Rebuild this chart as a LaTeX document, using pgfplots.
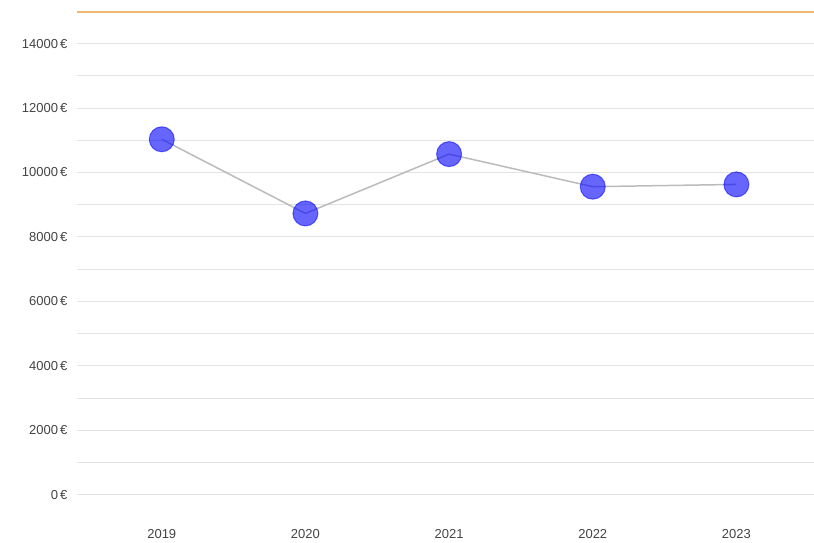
\documentclass[border=0pt]{standalone}
\usepackage{pgfplots}
\pgfplotsset{compat=1.18}
\usepackage{fontspec}
\setmainfont{Liberation Sans}
\definecolor{gridc}{HTML}{E3E3E3}
\definecolor{linec}{HTML}{BBBBBB}
\definecolor{labc}{HTML}{444444}
\begin{document}
\begin{tikzpicture}[x=1pt,y=1pt]
\begin{axis}[
  scale only axis,
  width=737pt, height=499.7pt,
  xmin=-0.59, xmax=4.54,
  ymin=-500, ymax=15000,
  scaled y ticks=false,
  axis line style={draw=none},
  xtick={0,1,2,3,4},
  xticklabels={2019,2020,2021,2022,2023},
  ytick={0,2000,4000,6000,8000,10000,12000,14000},
  yticklabels={0\,€,2000\,€,4000\,€,6000\,€,8000\,€,10000\,€,12000\,€,14000\,€},
  minor ytick={1000,3000,5000,7000,9000,11000,13000},
  ymajorgrids, yminorgrids,
  major grid style={gridc, line width=1pt},
  minor grid style={gridc, line width=1pt},
  major tick length=0pt, minor tick length=0pt,
  tick label style={font=\fontsize{13}{15}\selectfont, text=labc},
  yticklabel style={xshift=-6pt},
  xticklabel style={yshift=-15pt},
  clip=false,
]
\addplot[linec, line width=1.5pt, mark=*, mark size=12.5pt,
  mark options={fill=blue, fill opacity=0.6, draw=blue, draw opacity=0.55, line width=1pt}]
  coordinates {(0,11030) (1,8730) (2,10570) (3,9560) (4,9630)};
\addplot[draw={rgb,255:red,240;green,185;blue,110}, line width=1.5pt, mark=none, forget plot]
  coordinates {(-0.59,14985) (4.54,14985)};
\end{axis}
\pgfresetboundingbox
\useasboundingbox (-77pt,-31pt) rectangle (737pt,511pt);
\end{tikzpicture}
\end{document}
